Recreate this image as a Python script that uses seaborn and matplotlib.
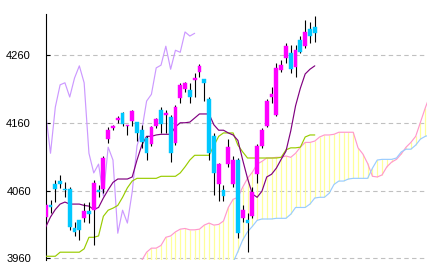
import numpy as np
import pandas as pd
import matplotlib
matplotlib.use("Agg")
import matplotlib.pyplot as plt
import seaborn as sns

# ---- daily candles (57 sessions) ----
opens = [4021, 4038, 4069, 4074, 4062, 4062, 4004, 4016, 4019, 4030,
         4031, 4061, 4062, 4136, 4152, 4164, 4174, 4155, 4163, 4161,
         4149, 4137, 4129, 4155, 4179, 4171, 4168, 4130, 4196, 4210,
         4208, 4223, 4235, 4225, 4195, 4140, 4069, 4061, 4099, 4069,
         4105, 4019, 4016, 4022, 4084, 4126, 4155, 4198, 4171, 4238,
         4256, 4263, 4242, 4282, 4273, 4298, 4301]
highs = [4040, 4046, 4075, 4083, 4072, 4065, 4013, 4016, 4041, 4043,
         4075, 4068, 4111, 4154, 4157, 4170, 4176, 4157, 4179, 4161,
         4157, 4140, 4155, 4167, 4183, 4179, 4171, 4186, 4219, 4220,
         4219, 4233, 4247, 4225, 4198, 4145, 4100, 4068, 4136, 4111,
         4108, 4038, 4027, 4065, 4129, 4152, 4195, 4213, 4248, 4253,
         4278, 4275, 4275, 4288, 4312, 4309, 4318]
lows = [4019, 4027, 4043, 4064, 4050, 4002, 3993, 3987, 4013, 4012,
        3979, 4050, 4056, 4130, 4149, 4160, 4155, 4142, 4155, 4133,
        4123, 4105, 4126, 4152, 4145, 4145, 4102, 4127, 4189, 4205,
        4189, 4198, 4228, 4192, 4105, 4053, 4044, 4044, 4095, 4065,
        3990, 4013, 3969, 4019, 4071, 4123, 4154, 4189, 4170, 4235,
        4248, 4233, 4228, 4263, 4270, 4278, 4279]
closes = [4038, 4035, 4062, 4069, 4061, 4006, 3999, 4002, 4030, 4025,
          4071, 4058, 4108, 4149, 4155, 4167, 4158, 4157, 4177, 4145,
          4131, 4115, 4154, 4165, 4158, 4174, 4115, 4183, 4216, 4219,
          4198, 4226, 4244, 4219, 4115, 4086, 4099, 4052, 4124, 4105,
          3997, 4031, 4012, 4058, 4126, 4149, 4192, 4202, 4241, 4245,
          4273, 4239, 4267, 4264, 4294, 4288, 4292]

# ---- Ichimoku lines ----
tenkan = [4006, 4021, 4032, 4040, 4043, 4040, 4040, 4040, 4038, 4037,
          4032, 4035, 4049, 4061, 4072, 4077, 4077, 4077, 4080, 4105,
          4127, 4140, 4140, 4142, 4143, 4143, 4143, 4154, 4160, 4160,
          4161, 4167, 4173, 4173, 4173, 4157, 4149, 4149, 4145, 4142,
          4134, 4105, 4078, 4055, 4050, 4059, 4080, 4084, 4093, 4106,
          4118, 4148, 4185, 4211, 4232, 4239, 4244]
kijun = [3963, 3963, 3963, 3969, 3969, 3969, 3969, 3969, 3974, 3991,
         3991, 3993, 4022, 4031, 4034, 4038, 4050, 4064, 4074, 4078,
         4078, 4078, 4078, 4078, 4081, 4081, 4081, 4081, 4086, 4095,
         4105, 4112, 4112, 4112, 4112, 4126, 4140, 4145, 4145, 4145,
         4127, 4117, 4108, 4108, 4108, 4108, 4108, 4108, 4108, 4109,
         4120, 4123, 4123, 4124, 4139, 4142, 4142]
SENKOU_START = 20
senkou_a = [3957, 3969, 3975, 3975, 3979, 3991, 3993, 3999, 4003, 4004,
            4002, 4002, 4003, 4009, 4012, 4009, 4010, 4015, 4035, 4047,
            4050, 4065, 4078, 4087, 4099, 4103, 4108, 4108, 4109, 4109,
            4111, 4109, 4115, 4124, 4131, 4131, 4133, 4139, 4142, 4142,
            4143, 4146, 4146, 4146, 4146, 4123, 4114, 4100, 4081, 4080,
            4083, 4095, 4102, 4106, 4114, 4124, 4131, 4140, 4161, 4182,
            4201, 4211]
senkou_b = [3946, 3946, 3946, 3946, 3946, 3946, 3946, 3946, 3946, 3946,
            3948, 3948, 3948, 3948, 3948, 3950, 3950, 3950, 3950, 3954,
            3970, 3987, 3999, 4007, 4016, 4018, 4018, 4018, 4019, 4019,
            4019, 4025, 4035, 4035, 4035, 4040, 4049, 4050, 4050, 4056,
            4069, 4074, 4074, 4077, 4078, 4078, 4078, 4078, 4093, 4105,
            4106, 4106, 4106, 4108, 4117, 4121, 4121, 4127, 4136, 4140,
            4142, 4142]
CHIKOU_SHIFT = 25

yticks = [3960, 4060, 4160, 4260]
ytick_labels = ["3960", "4060", "4160", "4260"]

# ---- frames ----
n = len(closes)
idx = np.arange(n)
candles = pd.DataFrame({"i": idx, "open": opens, "high": highs,
                        "low": lows, "close": closes})
lines = pd.DataFrame({"i": idx, "tenkan": tenkan, "kijun": kijun})
chikou = pd.DataFrame({"i": idx - CHIKOU_SHIFT, "v": closes})
cloud = pd.DataFrame({"i": np.arange(SENKOU_START, SENKOU_START + len(senkou_a)),
                      "a": senkou_a, "b": senkou_b})

sns.set_theme(style="white")
plt.rcParams["font.family"] = ["Liberation Sans", "DejaVu Sans"]

W, H = 432, 272
fig = plt.figure(figsize=(W / 100, H / 100), dpi=100)
fig.patch.set_facecolor("white")
left_px, right_px, top_px, bot_px = 45.5, 427.0, 14.0, 259.5
ax = fig.add_axes([left_px / W, 1 - bot_px / H,
                   (right_px - left_px) / W, (bot_px - top_px) / H])
ax.set_facecolor("white")

# cloud: yellow vertical hatch lines
ax.vlines(cloud["i"], cloud[["a", "b"]].min(axis=1), cloud[["a", "b"]].max(axis=1),
          color="#ffff99", linewidth=0.9, zorder=1)

lw = 0.85
sns.lineplot(data=cloud, x="i", y="a", ax=ax, color="#ff99cc", linewidth=lw,
             estimator=None, legend=False, zorder=2)
sns.lineplot(data=cloud, x="i", y="b", ax=ax, color="#99ccff", linewidth=lw,
             estimator=None, legend=False, zorder=2)
sns.lineplot(data=chikou, x="i", y="v", ax=ax, color="#cc99ff", linewidth=lw,
             estimator=None, legend=False, zorder=2)
sns.lineplot(data=lines, x="i", y="kijun", ax=ax, color="#99cc00", linewidth=lw,
             estimator=None, legend=False, zorder=3)
sns.lineplot(data=lines, x="i", y="tenkan", ax=ax, color="#800080", linewidth=lw,
             estimator=None, legend=False, zorder=3)

# candles
up = candles["close"] >= candles["open"]
colors = np.where(up, "#ff00ff", "#00c8ff")
ax.vlines(candles["i"], candles["low"], candles["high"], color="black",
          linewidth=0.8, zorder=4)
body_lo = candles[["open", "close"]].min(axis=1)
body_h = (candles["close"] - candles["open"]).abs().clip(lower=1.5)
ax.bar(candles["i"], body_h, bottom=body_lo, width=0.78, color=colors,
       edgecolor=colors, linewidth=0.3, zorder=5)

# axes styling
ax.set_xlim((left_px - 45.7) / 4.805, (right_px - 45.7) / 4.805)
ppu = (258.3 - 55.0) / 300.0
ax.set_ylim(3960 - (bot_px - 258.3) / ppu, 3960 + (258.3 - top_px) / ppu)
ax.set_xticks([])
ax.set_yticks(yticks)
ax.set_yticklabels(ytick_labels)
ax.tick_params(axis="y", direction="in", length=3, width=0.8, pad=10.5,
               labelsize=8, colors="black", left=True)
ax.yaxis.grid(True, color="#c0c0c0", linewidth=0.8, linestyle=(0, (4, 3)))
ax.xaxis.grid(False)
ax.set_axisbelow(True)
for s in ["top", "right", "bottom"]:
    ax.spines[s].set_visible(False)
ax.spines["left"].set_color("black")
ax.spines["left"].set_linewidth(0.8)
ax.set_xlabel("")
ax.set_ylabel("")

fig.savefig("out.png", dpi=100)
